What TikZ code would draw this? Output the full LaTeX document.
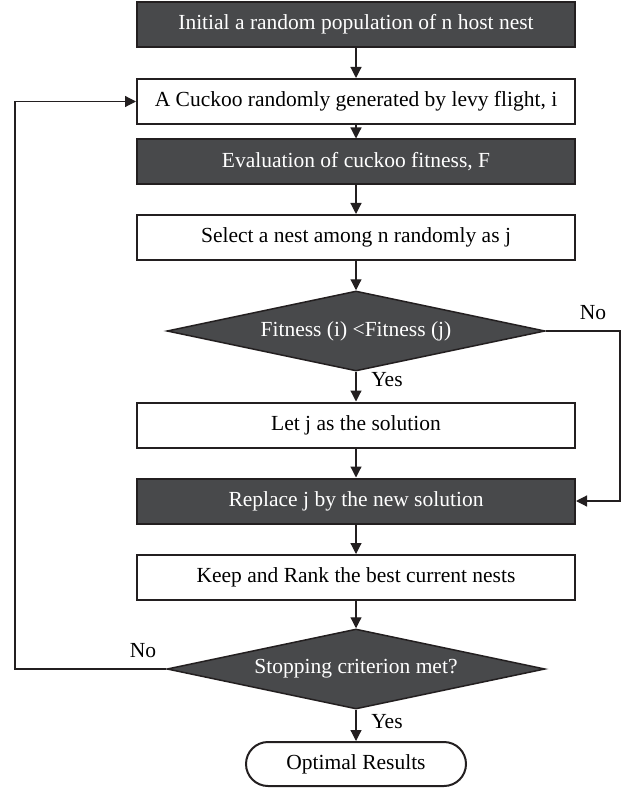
\documentclass[tikz,border=0pt]{standalone}
\usepackage{fontspec}
\setmainfont{Liberation Serif}
\usetikzlibrary{positioning}
\usetikzlibrary{calc}
\usetikzlibrary{arrows.meta,shapes}

\definecolor{boxgray}{RGB}{72,73,75}
\definecolor{edgeblack}{RGB}{35,31,32}

\begin{document}
\begin{tikzpicture}[x=1pt,y=-1pt,
  every node/.style={font=\fontsize{21.5}{25}\selectfont, inner sep=0pt},
  >={Triangle[length=11pt,width=11pt]},
  lightbox/.style={draw=edgeblack, line width=2pt, fill=white, minimum width=438pt, minimum height=45pt},
  darkbox/.style={lightbox, fill=boxgray, text=white},
  decision/.style={diamond, draw=edgeblack, line width=1.5pt, fill=boxgray, text=white, aspect=4, minimum width=378pt, minimum height=80pt},
  terminal/.style={draw=edgeblack, line width=2pt, rounded corners=22pt, minimum width=220pt, minimum height=44pt},
  every edge/.style={draw=edgeblack, line width=1.2pt}]
\useasboundingbox (0,0) rectangle (628,791);
\node[darkbox](init) at (356,24.5){Initial a random population of n host nest};
\node[lightbox](levy) at (356,101.5){A Cuckoo randomly generated by levy flight, i};
\node[darkbox](eval) at (356,162){Evaluation of cuckoo fitness, F};
\node[lightbox](select) at (356,237.5){Select a nest among n randomly as j};
\node[decision](cmp) at (356,331){Fitness (i) <Fitness (j)};
\node[lightbox](letj) at (356,425){Let j as the solution};
\node[darkbox](replace) at (356,501){Replace j by the new solution};
\node[lightbox](rank) at (356,577.5){Keep and Rank the best current nests};
\node[decision](stop) at (356,669){Stopping criterion met?};
\node[terminal](optimal) at (356,764){Optimal Results};

\node[](yesA) at (387,380){Yes};
\node[](noA) at (593,313){No};
\node[](noB) at (143,651){No};
\node[](yesB) at (387,722){Yes};

\coordinate(noRight) at (620,331);
\coordinate(noLeft) at (15,669);

\path
(init) edge[->] (levy)
(levy) edge[->] (eval)
(eval) edge[->] (select)
(select) edge[->] (cmp)
(cmp) edge[->] (letj)
(letj) edge[->] (replace)
(replace) edge[->] (rank)
(rank) edge[->] (stop)
(stop) edge[->] (optimal);

\draw[edgeblack, line width=1.2pt, ->] (cmp.east) -- (noRight) |- (replace.east);
\draw[edgeblack, line width=1.2pt, ->] (stop.west) -- (noLeft) |- (levy.west);
\end{tikzpicture}
\end{document}
